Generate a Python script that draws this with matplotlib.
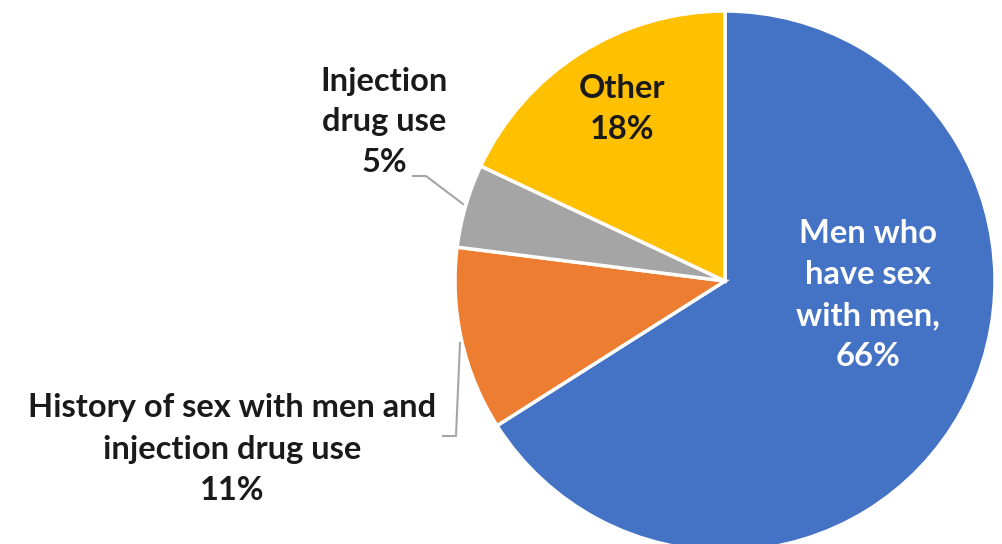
import matplotlib
matplotlib.use("Agg")
import matplotlib.pyplot as plt

categories = ["Men who\nhave sex\nwith men,", "History of sex with men and\ninjection drug use",
              "Injection\ndrug use", "Other"]
shares = [66, 11, 5, 18]
colors = ["#4472C4", "#ED7D31", "#A5A5A5", "#FFC000"]

plt.rcParams["font.family"] = ["Lato", "DejaVu Sans"]

W, H = 1002, 544
fig = plt.figure(figsize=(W / 100, H / 100), dpi=100)
ax = fig.add_axes([0, 0, 1, 1])

cx, cy, r = 725, H - 281, 270
ax.pie(shares, colors=colors, startangle=90, counterclock=False,
       center=(cx, cy), radius=r, frame=True,
       wedgeprops=dict(edgecolor="white", linewidth=2.5))
ax.set_xlim(0, W)
ax.set_ylim(0, H)
ax.set_aspect("equal")
ax.axis("off")

fs = 23.5
ls = 1.5
txt = "#1a1a1a"
ax.text(868, H - 295, f"{categories[0]}\n{shares[0]}%", color="white", fontsize=fs,
        fontweight="bold", ha="center", va="center", linespacing=ls)
ax.text(622, H - 109, f"{categories[3]}\n{shares[3]}%", color=txt, fontsize=fs,
        fontweight="bold", ha="center", va="center", linespacing=ls)
ax.text(384, H - 122, f"{categories[2]}\n{shares[2]}%", color=txt, fontsize=fs,
        fontweight="bold", ha="center", va="center", linespacing=ls)
ax.text(232, H - 449, f"{categories[1]}\n{shares[1]}%", color=txt, fontsize=fs,
        fontweight="bold", ha="center", va="center", linespacing=ls)

# leader lines for the two small slices
lc = "#A6A6A6"
ax.plot([413, 426, 463], [H - 176, H - 176, H - 204], color=lc, lw=1.5)
ax.plot([443, 456, 460], [H - 436, H - 436, H - 343], color=lc, lw=1.5)

fig.savefig("out.png", dpi=100)
